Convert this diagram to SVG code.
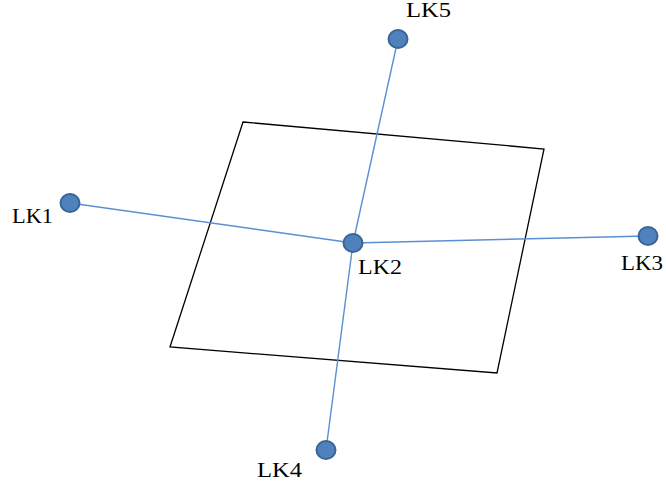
<svg xmlns="http://www.w3.org/2000/svg" width="666" height="486" viewBox="0 0 666 486">
<style>
.edge{stroke:#5b8fd3;stroke-width:1.4;fill:none}
.node{fill:#4f81bd;stroke:#3a6496;stroke-width:2}
.lbl{font-family:"Liberation Serif","Times New Roman",serif;font-size:20px;fill:#000}
.plate{fill:none;stroke:#000;stroke-width:1.3}
</style>
<rect width="666" height="486" fill="#fff"/>
<g id="plate"><polygon class="plate" points="243,122 544,149 497,373 170,347"/></g>
<g id="connectors">
<line class="edge" x1="70" y1="203" x2="353" y2="243"/>
<line class="edge" x1="353" y1="243" x2="648" y2="236"/>
<line class="edge" x1="398" y1="39" x2="353" y2="243"/>
<line class="edge" x1="353" y1="243" x2="326" y2="450"/>
</g>
<g id="LK1"><ellipse class="node" cx="70" cy="203" rx="9.5" ry="9"/><text class="lbl" x="12" y="223" textLength="41" lengthAdjust="spacingAndGlyphs">LK1</text></g>
<g id="LK2"><ellipse class="node" cx="353" cy="243" rx="9.5" ry="9"/><text class="lbl" x="358" y="274" textLength="44" lengthAdjust="spacingAndGlyphs">LK2</text></g>
<g id="LK3"><ellipse class="node" cx="648" cy="236" rx="9.5" ry="9"/><text class="lbl" x="621" y="270" textLength="42" lengthAdjust="spacingAndGlyphs">LK3</text></g>
<g id="LK4"><ellipse class="node" cx="326" cy="450" rx="9.5" ry="9"/><text class="lbl" x="257" y="477" textLength="45" lengthAdjust="spacingAndGlyphs">LK4</text></g>
<g id="LK5"><ellipse class="node" cx="398" cy="39" rx="9.5" ry="9"/><text class="lbl" x="406" y="17" textLength="45" lengthAdjust="spacingAndGlyphs">LK5</text></g>
</svg>
